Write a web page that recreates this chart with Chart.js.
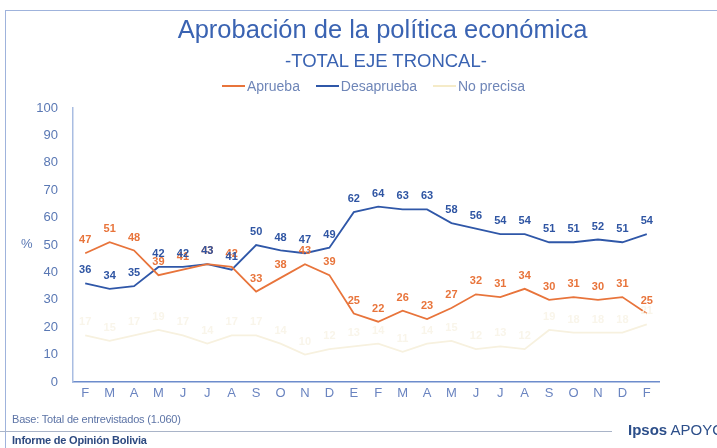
<!DOCTYPE html>
<html>
<head>
<meta charset="utf-8">
<script src="https://cdn.jsdelivr.net/npm/chart.js@4.4.0/dist/chart.umd.min.js"></script>
<style>
  html, body { margin: 0; padding: 0; background: #ffffff; }
  #wrap { position: relative; width: 717px; height: 448px; overflow: hidden; background: #fff; font-family: "Liberation Sans", Arial, sans-serif; }
  #frame { position: absolute; left: 5px; top: 10px; width: 720px; height: 460px; border-top: 1.5px solid #9fb3dc; border-left: 1.5px solid #9fb3dc; }
  canvas { position: absolute; left: 0; top: 0; }
  .t { position: absolute; white-space: nowrap; }
  #title { left: 0; width: 765px; top: 15px; text-align: center; font-size: 25.5px; color: #3a63b2; }
  #sub { left: 0; width: 772px; top: 50px; text-align: center; font-size: 18.5px; color: #3a63b2; }
  #legend { left: 222px; top: 78px; font-size: 14px; color: #6f86b8; letter-spacing: 0px; }
  #legend span.item { display: inline-block; margin-right: 12px; }
  #legend span.ln { display: inline-block; width: 23px; height: 2px; vertical-align: middle; margin-right: 2px; position: relative; top: -1px; }
  #pct { left: 21px; top: 236px; font-size: 13px; color: #5a78b4; }
  #base { left: 12px; top: 413px; font-size: 11px; color: #5d74a6; letter-spacing: -0.2px; }
  #rule { position: absolute; left: 0; top: 431px; width: 612px; height: 1px; background: #a9b4c8; }
  #ipsos { left: 628px; top: 421px; font-size: 15px; color: #2d4f8a; }
  #informe { left: 12px; top: 434px; font-size: 11px; font-weight: bold; color: #2d4a80; letter-spacing: -0.2px; }
</style>
</head>
<body>
<div id="wrap">
  <div id="frame"></div>
  <canvas id="c" width="717" height="448"></canvas>
  <div class="t" id="title">Aprobación de la política económica</div>
  <div class="t" id="sub">-TOTAL EJE TRONCAL-</div>
  <div class="t" id="legend">
    <span class="item"><span class="ln" style="background:#e8743b"></span>Aprueba</span>
    <span class="item"><span class="ln" style="background:#2f57a8"></span>Desaprueba</span>
    <span class="item"><span class="ln" style="background:#f5ebc8"></span>No precisa</span>
  </div>
  <div class="t" id="pct">%</div>
  <div class="t" id="base">Base: Total de entrevistados (1.060)</div>
  <div id="rule"></div>
  <div class="t" id="ipsos"><b>Ipsos</b> APOYO</div>
  <div class="t" id="informe">Informe de Opinión Bolivia</div>
</div>
<script>
const categories = ["F","M","A","M","J","J","A","S","O","N","D","E","F","M","A","M","J","J","A","S","O","N","D","F"];
const aprueba    = [47,51,48,39,41,43,42,33,38,43,39,25,22,26,23,27,32,31,34,30,31,30,31,25];
const desaprueba = [36,34,35,42,42,43,41,50,48,47,49,62,64,63,63,58,56,54,54,51,51,52,51,54];
const noPrecisa  = [17,15,17,19,17,14,17,17,14,10,12,13,14,11,14,15,12,13,12,19,18,18,18,21];
const yTicks = [0,10,20,30,40,50,60,70,80,90,100];

const labelColors = ["#e8743b", "#2f55a3", "#f9f5ea"];

const valueLabels = {
  id: 'valueLabels',
  afterDatasetsDraw(chart) {
    const ctx = chart.ctx;
    ctx.save();
    ctx.font = 'bold 11px "Liberation Sans", Arial, sans-serif';
    ctx.textAlign = 'center';
    ctx.textBaseline = 'middle';
    chart.data.datasets.forEach((ds, i) => {
      const meta = chart.getDatasetMeta(i);
      ctx.fillStyle = labelColors[i];
      meta.data.forEach((pt, j) => {
        ctx.fillText(String(ds.data[j]), pt.x, pt.y - 13);
      });
    });
    ctx.restore();
  }
};

new Chart(document.getElementById('c'), {
  type: 'line',
  data: {
    labels: categories,
    datasets: [
      { label: 'Aprueba', data: aprueba, borderColor: '#e8743b', borderWidth: 1.8, pointRadius: 0, tension: 0, fill: false },
      { label: 'Desaprueba', data: desaprueba, borderColor: '#2f57a8', borderWidth: 1.8, pointRadius: 0, tension: 0, fill: false },
      { label: 'No precisa', data: noPrecisa, borderColor: '#f7f1df', borderWidth: 1.8, pointRadius: 0, tension: 0, fill: false }
    ]
  },
  options: {
    responsive: false,
    animation: false,
    devicePixelRatio: 1,
    layout: { padding: { left: 0, right: 58, top: 108, bottom: 0 } },
    plugins: { legend: { display: false }, tooltip: { enabled: false }, title: { display: false } },
    scales: {
      x: {
        offset: true,
        grid: { display: false, drawTicks: false },
        border: { display: true, color: '#6d8ccc', width: 1.5 },
        ticks: { color: '#6a84c0', font: { size: 13, family: '"Liberation Sans", Arial, sans-serif' }, padding: 4, maxRotation: 0, autoSkip: false },
        afterFit(scale) { scale.height = 66; }
      },
      y: {
        min: 0, max: 100,
        afterBuildTicks(scale) { scale.ticks = yTicks.map(v => ({ value: v })); },
        grid: { display: false, drawTicks: false },
        border: { display: true, color: '#a9bde2', width: 1.5 },
        ticks: { color: '#5a78b4', font: { size: 13, family: '"Liberation Sans", Arial, sans-serif' }, padding: 15 },
        afterFit(scale) { scale.width = 73; }
      }
    }
  },
  plugins: [valueLabels]
});
</script>
</body>
</html>
